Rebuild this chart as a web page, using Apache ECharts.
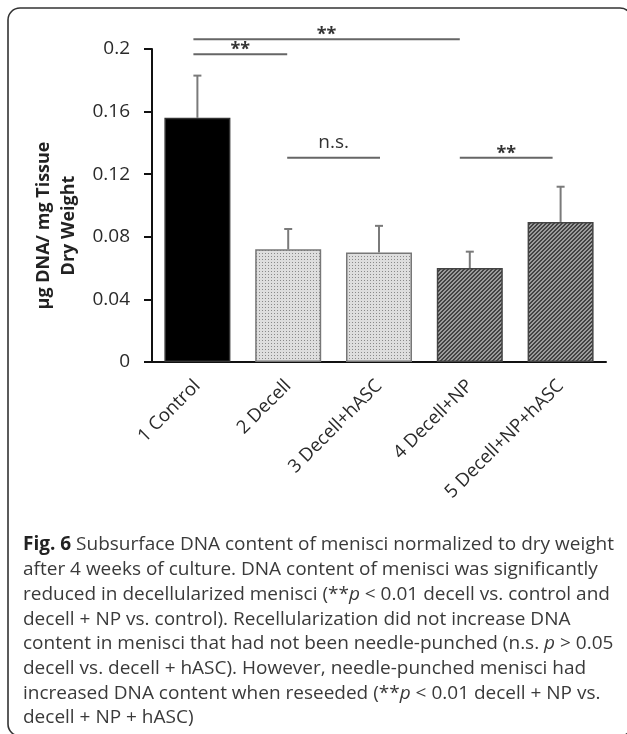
<!DOCTYPE html>
<html>
<head>
<meta charset="utf-8">
<script src="https://cdn.jsdelivr.net/npm/echarts@6/dist/echarts.min.js"></script>
<style>
html,body{margin:0;padding:0;background:#fff;}
#chart{width:627px;height:734px;}
</style>
</head>
<body>
<div id="chart"></div>
<script>
// ---- data ----
const categories = ['1 Control', '2 Decell', '3 Decell+hASC', '4 Decell+NP', '5 Decell+NP+hASC'];
const means = [0.156, 0.072, 0.070, 0.060, 0.0895];
const errUpper = [0.027, 0.013, 0.017, 0.0105, 0.0225];
const yMin = 0, yMax = 0.2, yStep = 0.04;
const sigFrom = [0, 0, 1, 3];
const sigTo = [3, 1, 2, 4];
const sigLevel = [0.2063, 0.1967, 0.1305, 0.1305];
const sigText = ['**', '**', 'n.s.', '**'];
const captionLines = [
  '{b|Fig. 6} Subsurface DNA content of menisci normalized to dry weight',
  'after 4 weeks of culture. DNA content of menisci was significantly',
  'reduced in decellularized menisci (**{i|p} < 0.01 decell vs. control and',
  'decell + NP vs. control). Recellularization did not increase DNA',
  'content in menisci that had not been needle-punched (n.s. {i|p} > 0.05',
  'decell vs. decell + hASC). However, needle-punched menisci had',
  'increased DNA content when reseeded (**{i|p} < 0.01 decell + NP vs.',
  'decell + NP + hASC)'
];

// ---- styles ----
function makePattern(kind) {
  const c = document.createElement('canvas');
  const ctx = c.getContext('2d');
  if (kind === 'dots') {
    c.width = 3; c.height = 3;
    ctx.fillStyle = '#dedede'; ctx.fillRect(0, 0, 3, 3);
    ctx.fillStyle = '#8a8a8a'; ctx.fillRect(1, 1, 1, 1);
  } else {
    c.width = 4; c.height = 4;
    ctx.fillStyle = '#9c9c9c'; ctx.fillRect(0, 0, 4, 4);
    ctx.fillStyle = '#434343';
    for (let x = 0; x < 4; x++) for (let y = 0; y < 4; y++) {
      const k = (x + y) % 4;
      if (k === 0 || k === 1) ctx.fillRect(x, y, 1, 1);
    }
  }
  return { image: c, repeat: 'repeat' };
}
const dotsPat = makePattern('dots');
const hatchPat = makePattern('hatch');
const barStyles = [
  { color: '#000000', borderColor: '#333333', borderWidth: 1.5 },
  { color: dotsPat, borderColor: '#777777', borderWidth: 1.5 },
  { color: dotsPat, borderColor: '#777777', borderWidth: 1.5 },
  { color: hatchPat, borderColor: '#444444', borderWidth: 1.5 },
  { color: hatchPat, borderColor: '#444444', borderWidth: 1.5 }
];
const sigOffsets = [[-4, -10], [-4, -1], [-1, 1], [-10, -8]];
const sigGaps = [-5, -5, 6, -5];

const FONT = '"Open Sans", "Noto Sans", sans-serif';

// caption font size fitted to the reference line width
const mctx = document.createElement('canvas').getContext('2d');
function tw(font, t) { mctx.font = font; return mctx.measureText(t).width; }
let capFs = 16;
const w1 = tw('bold ' + capFs + 'px ' + FONT, 'Fig. 6') +
  tw(capFs + 'px ' + FONT, ' Subsurface DNA content of menisci normalized to dry weight');
capFs = Math.round(capFs * 590 / w1 * 10) / 10;
const capLH = 24.7;

const chart = echarts.init(document.getElementById('chart'), null, { renderer: 'canvas' });

const option = {
  animation: false,
  backgroundColor: '#ffffff',
  grid: { left: 152, right: 21, top: 49, bottom: 372 },
  xAxis: {
    type: 'category',
    data: categories,
    boundaryGap: true,
    axisLine: { lineStyle: { color: '#111', width: 2 } },
    axisTick: { show: false },
    axisLabel: {
      rotate: 45, margin: 21, interval: 0,
      fontFamily: FONT, fontSize: 18.5, color: '#2a2a2a'
    },
    splitLine: { show: false }
  },
  yAxis: {
    type: 'value',
    min: yMin, max: yMax, interval: yStep,
    name: 'µg DNA/ mg Tissue\nDry Weight',
    nameLocation: 'middle',
    nameGap: 64,
    nameTextStyle: {
      fontFamily: FONT, fontSize: 18, fontWeight: 'bold', color: '#222',
      lineHeight: 25, padding: [0, 40, 0, 0]
    },
    axisLine: { show: true, lineStyle: { color: '#111', width: 2 } },
    axisTick: { show: true, length: 8, lineStyle: { color: '#111', width: 2 } },
    axisLabel: {
      margin: 22, fontFamily: FONT, fontSize: 19, color: '#2a2a2a'
    },
    splitLine: { show: false }
  },
  series: [
    {
      type: 'bar',
      barWidth: 66,
      data: means.map((v, i) => ({ value: v, itemStyle: barStyles[i] })),
      z: 2
    },
    {
      type: 'custom',
      z: 3,
      data: means.map((m, i) => [i, m, m + errUpper[i]]),
      encode: { x: 0, y: [1, 2] },
      renderItem: function (params, api) {
        const x = api.value(0);
        const p0 = api.coord([x, api.value(1)]);
        const p1 = api.coord([x, api.value(2)]);
        const style = { stroke: '#7a7a7a', lineWidth: 2 };
        return {
          type: 'group',
          children: [
            { type: 'line', shape: { x1: p0[0], y1: p0[1], x2: p1[0], y2: p1[1] }, style: style },
            { type: 'line', shape: { x1: p1[0] - 4, y1: p1[1], x2: p1[0] + 4, y2: p1[1] }, style: style }
          ]
        };
      }
    },
    {
      type: 'custom',
      z: 4,
      clip: false,
      data: sigFrom.map((f, i) => [f, sigTo[i], sigLevel[i]]),
      encode: { x: [0, 1], y: 2 },
      renderItem: function (params, api) {
        const i = params.dataIndex;
        const a = api.coord([api.value(0), api.value(2)]);
        const b = api.coord([api.value(1), api.value(2)]);
        const x1 = a[0] + sigOffsets[i][0];
        const x2 = b[0] + sigOffsets[i][1];
        const isStar = sigText[i] === '**';
        return {
          type: 'group',
          children: [
            { type: 'line', shape: { x1: x1, y1: a[1], x2: x2, y2: a[1] },
              style: { stroke: '#666', lineWidth: 2 } },
            { type: 'text', x: (x1 + x2) / 2, y: a[1] - sigGaps[i],
              style: {
                text: sigText[i], align: 'center', verticalAlign: 'bottom',
                font: (isStar ? 'bold 18px ' : '19px ') + FONT, fill: '#333'
              } }
          ]
        };
      }
    }
  ],
  graphic: [
    {
      type: 'rect', z: 0,
      shape: { x: 8, y: 8, width: 624, height: 728, r: 12 },
      style: { fill: 'none', stroke: '#333', lineWidth: 1.6 }
    },
    {
      type: 'text', x: 23, y: 545 - capLH / 2,
      style: {
        text: captionLines.join('\n'),
        font: capFs + 'px ' + FONT,
        fill: '#3a3a3a',
        lineHeight: capLH,
        verticalAlign: 'top',
        rich: {
          b: { fontFamily: FONT, fontSize: capFs, fontWeight: 'bold', fill: '#222', lineHeight: capLH },
          i: { fontFamily: FONT, fontSize: capFs, fontStyle: 'italic', fill: '#3a3a3a', lineHeight: capLH }
        }
      }
    }
  ]
};
chart.setOption(option);
</script>
</body>
</html>
